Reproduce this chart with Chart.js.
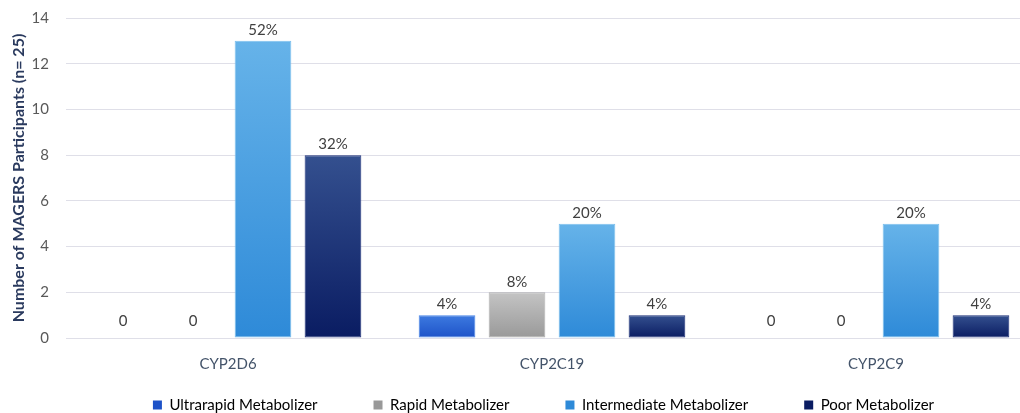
<!DOCTYPE html>
<html>
<head>
<meta charset="utf-8">
<script src="https://cdn.jsdelivr.net/npm/chart.js@4.4.1/dist/chart.umd.min.js"></script>
<style>
  html, body { margin: 0; padding: 0; background: #fff; overflow: hidden; }
  #wrap { width: 1086px; height: 413px; position: relative; }
</style>
</head>
<body>
<div id="wrap"><canvas id="cypChart"></canvas></div>
<script>
// ---- data ----
const genes = ["CYP2D6", "CYP2C19", "CYP2C9"];
const ultrarapid = [0, 1, 0];
const rapid = [0, 2, 0];
const intermediate = [13, 5, 5];
const poor = [8, 1, 1];
const yTicks = [0, 2, 4, 6, 8, 10, 12, 14];
const totalN = 25;

const FONT = "Lato, 'Open Sans', sans-serif";

// top / bottom colours for each bar gradient
const shades = {
  ultrarapid: ["#3d7ae0", "#1d52c8"],
  rapid: ["#c4c4c4", "#999999"],
  intermediate: ["#66b3e9", "#2e8ad8"],
  poor: ["#34508f", "#0a1c62"]
};

// vertical gradient per bar, built from the y scale
function barGradient(pair) {
  return function (context) {
    const chart = context.chart;
    const y = chart.scales.y;
    if (!y || context.raw === undefined) return pair[1];
    const top = y.getPixelForValue(context.raw);
    const bottom = y.getPixelForValue(0);
    if (!isFinite(top) || !isFinite(bottom) || top === bottom) return pair[1];
    const g = chart.ctx.createLinearGradient(0, top, 0, bottom);
    g.addColorStop(0, pair[0]);
    g.addColorStop(1, pair[1]);
    return g;
  };
}

function makeSet(label, data, pair, border) {
  return {
    label: label,
    data: data,
    backgroundColor: barGradient(pair),
    borderColor: border,
    borderWidth: 1,
    borderSkipped: false,
    categoryPercentage: 0.864,
    barPercentage: 0.81
  };
}

// labels above bars: "0" for empty, otherwise share of n
const valueLabels = {
  id: "valueLabels",
  afterDatasetsDraw(chart) {
    const ctx = chart.ctx;
    ctx.save();
    ctx.font = "15px " + FONT;
    ctx.fillStyle = "#404040";
    ctx.textAlign = "center";
    ctx.textBaseline = "bottom";
    chart.data.datasets.forEach((ds, di) => {
      chart.getDatasetMeta(di).data.forEach((bar, i) => {
        const v = ds.data[i];
        const txt = v === 0 ? "0" : Math.round(v / totalN * 100) + "%";
        ctx.fillText(txt, bar.x, bar.y - (v === 0 ? 9 : 3));
      });
    });
    ctx.restore();
  }
};

// the original legend sits lower and a bit right of where Chart.js puts it
const legendNudge = {
  id: "legendNudge",
  afterLayout(chart) {
    const lg = chart.legend;
    if (!lg) return;
    lg.left += 45;
    lg.top = 341.5;
    lg.bottom = chart.height;
  }
};

new Chart(document.getElementById("cypChart"), {
  type: "bar",
  data: {
    labels: genes,
    datasets: [
      makeSet("Ultrarapid Metabolizer", ultrarapid, shades.ultrarapid, "#4a86e8"),
      makeSet("Rapid Metabolizer", rapid, shades.rapid, "#b0b0b0"),
      makeSet("Intermediate Metabolizer", intermediate, shades.intermediate, "#7cc0ee"),
      makeSet("Poor Metabolizer", poor, shades.poor, "#1c2f78")
    ]
  },
  plugins: [valueLabels, legendNudge],
  options: {
    responsive: true,
    maintainAspectRatio: false,
    animation: false,
    layout: { padding: { top: 18, right: 48, bottom: 0, left: 4 } },
    scales: {
      x: {
        grid: { display: false },
        border: { display: false },
        afterFit: axis => { axis.height = 34; },
        ticks: { color: "#44546a", font: { family: FONT, size: 15 }, padding: 9 }
      },
      y: {
        min: 0,
        max: 14,
        afterBuildTicks: axis => { axis.ticks = yTicks.map(v => ({ value: v })); },
        afterFit: axis => { axis.width = 62; axis.paddingTop = 0; axis.paddingBottom = 0; },
        grid: { color: "#dfdfe8", drawTicks: false },
        border: { display: false },
        ticks: { color: "#595959", font: { family: FONT, size: 15 }, padding: 17 },
        title: {
          display: true,
          text: "Number of MAGERS Participants (n= 25)",
          color: "#2a3a5e",
          font: { family: FONT, size: 16, weight: "bold" },
          padding: { top: 5, bottom: 0 }
        }
      }
    },
    plugins: {
      tooltip: { enabled: false },
      legend: {
        position: "bottom",
        maxHeight: 41,
        labels: {
          color: "#404040",
          font: { family: FONT, size: 15 },
          boxWidth: 9,
          boxHeight: 9,
          padding: 56,
          generateLabels: chart => chart.data.datasets.map((ds, i) => {
            const key = Object.keys(shades)[i];
            return {
              text: ds.label,
              fillStyle: shades[key][1],
              strokeStyle: shades[key][1],
              lineWidth: 0,
              datasetIndex: i
            };
          })
        }
      }
    }
  }
});
</script>
</body>
</html>
